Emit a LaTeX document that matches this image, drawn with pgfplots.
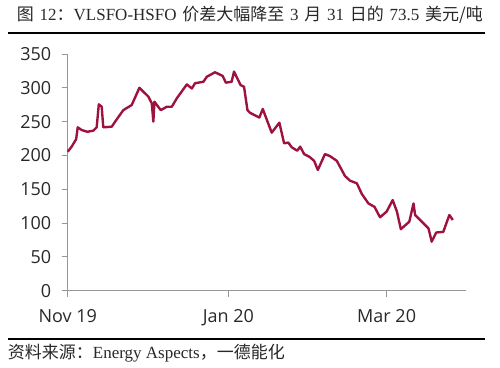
\documentclass[border=0pt]{standalone}
\usepackage{fontspec}
\setmainfont{Liberation Serif}
\newfontfamily\cjk{Noto Sans CJK SC}
\newfontfamily\tickfont{Open Sans}
\usepackage{pgfplots}
\pgfplotsset{compat=1.18}
\definecolor{linec}{RGB}{158,18,62}
\definecolor{axgray}{RGB}{150,150,150}
\definecolor{txt}{RGB}{40,40,40}
\begin{document}
\begin{tikzpicture}
\useasboundingbox (-67.7bp,-77.3bp) rectangle (432.3bp,290.7bp);
\begin{axis}[
  at={(0,0)}, anchor=south west,
  scale only axis, width=398bp, height=236.7bp,
  xmin=0, xmax=151, ymin=0, ymax=350,
  axis lines*=left,
  axis line style={axgray, line width=1pt},
  xtick={0,61,121}, xticklabels={Nov 19, Jan 20, Mar 20},
  ytick={0,50,...,350},
  tick style={axgray, line width=1pt},
  tick align=outside,
  major tick length=6bp,
  /pgf/number format/assume math mode=true,
  ticklabel style={font=\tickfont\fontsize{18bp}{20bp}\selectfont, text=txt},
  xticklabel style={yshift=-9bp},
  yticklabel style={xshift=-7bp},
  clip=false,
]
\addplot[linec, line width=2.4pt, line join=round] coordinates {
(0,205.5) (1.5,213) (3.2,224) (3.8,241.6) (5.3,237.6) (7.4,235) (9.7,236.6)
(11,241.6) (11.8,275.6) (12.9,272) (13.5,241.6) (16.7,242.5) (18,250)
(21.1,267) (24.3,274.6) (27.2,300) (30.6,287) (31.9,277) (32.5,250)
(32.9,279.5) (35.3,267) (37.6,272) (39.5,272) (41.4,284.5) (45.2,305)
(47.1,299) (48.3,306.7) (51.5,309) (52.8,316.4) (55.9,323) (58.8,317.5)
(60,307.6) (62.2,309) (63.1,324) (65.6,304) (66.9,301.6) (68.2,267)
(69.2,263) (72.7,256) (74,268.7) (77.4,233.7) (80.3,248.4) (82.1,218)
(83.7,219) (85,212) (87.1,207) (88.2,213) (89.7,202) (91.7,198) (93.5,192)
(94.9,178.5) (97.6,202) (99.5,199) (102.1,192) (105.2,169.6) (107.1,162.7)
(109.7,158.8) (111.6,143) (114.1,129) (116.4,124) (118.5,108.5) (121,117)
(123.3,134) (124.9,117) (126.4,91) (129.6,102) (131.2,129) (131.8,112)
(136.9,92) (138.1,72.5) (139.8,86) (142.5,87) (144.8,112) (146.1,104.5)
};
\end{axis}
% title
\node[anchor=west, inner sep=0pt, font=\fontsize{17bp}{19bp}\selectfont, text=txt] at (-51bp,275.7bp)
  {\makebox[466bp][s]{{\cjk 图} 12{\cjk ：}VLSFO-HSFO {\cjk 价差大幅降至} 3 {\cjk 月} 31 {\cjk 日的} 73.5 {\cjk 美元/吨}}};
\draw[black, line width=2pt] (-59.7bp,257.7bp) -- (417.3bp,257.7bp);
% source
\draw[black, line width=2pt] (-59.7bp,-48.3bp) -- (417.3bp,-48.3bp);
\node[anchor=west, inner sep=0pt, font=\fontsize{17bp}{19bp}\selectfont, text=txt] at (-60bp,-62.3bp)
  {{\cjk 资料来源：}Energy Aspects{\cjk ，一德能化}};
\end{tikzpicture}
\end{document}
